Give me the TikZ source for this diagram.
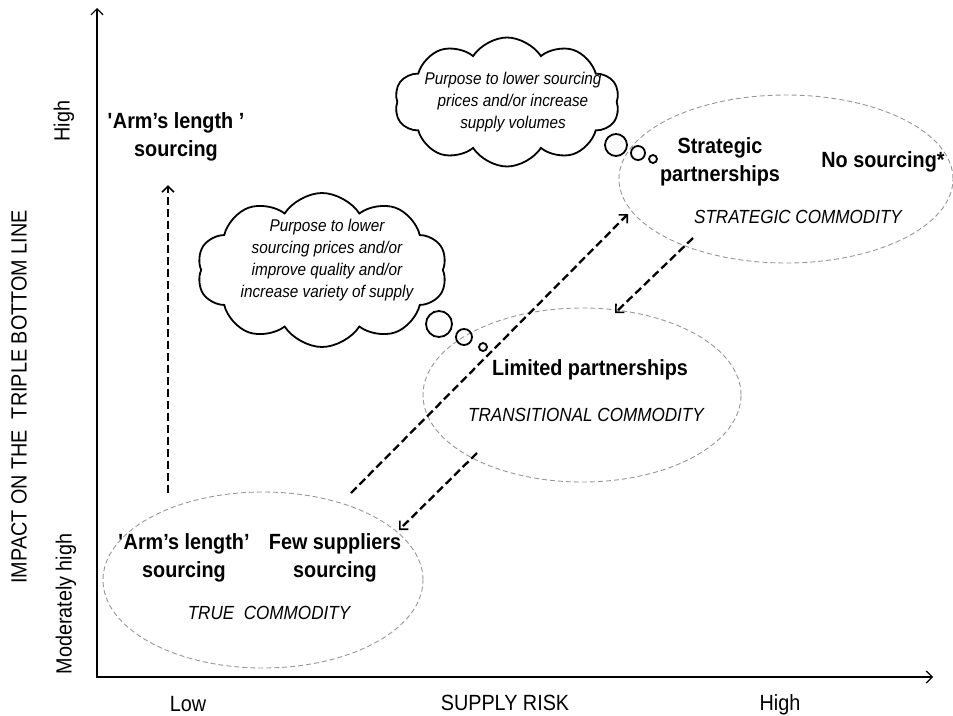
\documentclass[tikz,border=0pt]{standalone}
\usepackage{fontspec}
\setmainfont{Liberation Sans}[FakeStretch=0.9]
\usepackage{tikz}
\usetikzlibrary{positioning,shapes,arrows,arrows.meta,calc}
\definecolor{zonegray}{RGB}{150,150,150}

\begin{document}
\begin{tikzpicture}[x=1pt,y=-1pt,
  zone/.style={ellipse, draw=zonegray, line width=0.9pt, dash pattern=on 5pt off 3pt, inner sep=0pt},
  move/.style={-{Straight Barb[length=6pt,width=12pt,line width=1.6pt]}, line width=2.3pt, dash pattern=on 8pt off 4pt},
  thought/.style={cloud, cloud puffs=10, cloud puff arc=115, cloud ignores aspect, draw=black, line width=1.8pt},
  bubble/.style={circle, draw=black, line width=1.8pt, inner sep=0pt},
  option/.style={font=\fontsize{22}{28}\selectfont\bfseries, align=center},
  commodity/.style={font=\fontsize{19}{24}\selectfont\itshape},
  purpose/.style={font=\fontsize{17}{22}\selectfont\itshape, align=center},
  axislabel/.style={font=\fontsize{22}{26}\selectfont}]
\useasboundingbox (0,0) rectangle (953,715);

% Axes
\coordinate (ytop) at (97,8);
\coordinate (xend) at (933,677);
\draw[{Straight Barb[length=6pt,width=12pt]}-{Straight Barb[length=6pt,width=12pt]}, line width=1.2pt] (ytop) |- (xend);

% Axis labels
\node[axislabel, anchor=base] (low) at (188,711) {Low};
\node[axislabel, anchor=base] (risk) at (505,710) {SUPPLY RISK};
\node[axislabel, anchor=base] (highx) at (780,710) {High};
\node[axislabel, rotate=90] (impact) at (19,397) {IMPACT ON THE~~TRIPLE BOTTOM LINE};
\node[axislabel, rotate=90] (modhigh) at (66,604) {Moderately high};
\node[axislabel, rotate=90] (highy) at (64,121) {High};

% Commodity zones
\node[zone, minimum width=320, minimum height=176] (truezone) at (263,580) {};
\node[zone, minimum width=318, minimum height=174] (transzone) at (582,395) {};
\node[zone, minimum width=334, minimum height=168] (stratzone) at (786,179) {};

% True commodity
\node[option] (armlow) at (184,558) {\textquotesingle Arm’s length’\\sourcing};
\node[option] (few) at (335,558) {Few suppliers\\sourcing};
\node[commodity] (truetext) at (269,613) {TRUE~~COMMODITY};

% Transitional commodity
\node[option] (limited) at (590,370) {Limited partnerships};
\node[commodity] (transtext) at (586,415) {TRANSITIONAL COMMODITY};

% Strategic commodity
\node[option] (strategic) at (720,162) {Strategic\\partnerships};
\node[option] (nosourcing) at (883,162) {No sourcing*};
\node[commodity] (strattext) at (798,217) {STRATEGIC COMMODITY};

% Arm's length sourcing at the top
\node[option] (armhigh) at (176,137) {\textquotesingle Arm’s length ’\\sourcing};

% Thought clouds
\node[thought, minimum width=225, minimum height=129] (cloudtop) at (507,102) {};
\node[purpose] (cloudtoptext) at (513,102) {Purpose to lower sourcing\\prices and/or increase\\supply volumes};
\node[bubble, minimum size=22] (bt1) at (616,145) {};
\node[bubble, minimum size=14] (bt2) at (638,153) {};
\node[bubble, minimum size=8] (bt3) at (653,159) {};

\node[thought, minimum width=250, minimum height=154] (cloudlow) at (322,270) {};
\node[purpose] (cloudlowtext) at (327,260) {Purpose to lower\\sourcing prices and/or\\improve quality and/or\\increase variety of supply};
\node[bubble, minimum size=26] (bl1) at (439,324) {};
\node[bubble, minimum size=16] (bl2) at (464,337) {};
\node[bubble, minimum size=8] (bl3) at (483,347) {};

% Moves between sourcing options
\coordinate (upfrom) at (168,493);
\coordinate (upto) at (168,185);
\draw[move] (upfrom) -- (upto);

\coordinate (afrom) at (351,493);
\coordinate (ato) at (628,214);
\draw[move] (afrom) -- (ato);

\coordinate (bfrom) at (693,238);
\coordinate (bto) at (615,313);
\draw[move] (bfrom) -- (bto);

\coordinate (cfrom) at (477,453);
\coordinate (cto) at (399,530);
\draw[move] (cfrom) -- (cto);
\end{tikzpicture}
\end{document}
